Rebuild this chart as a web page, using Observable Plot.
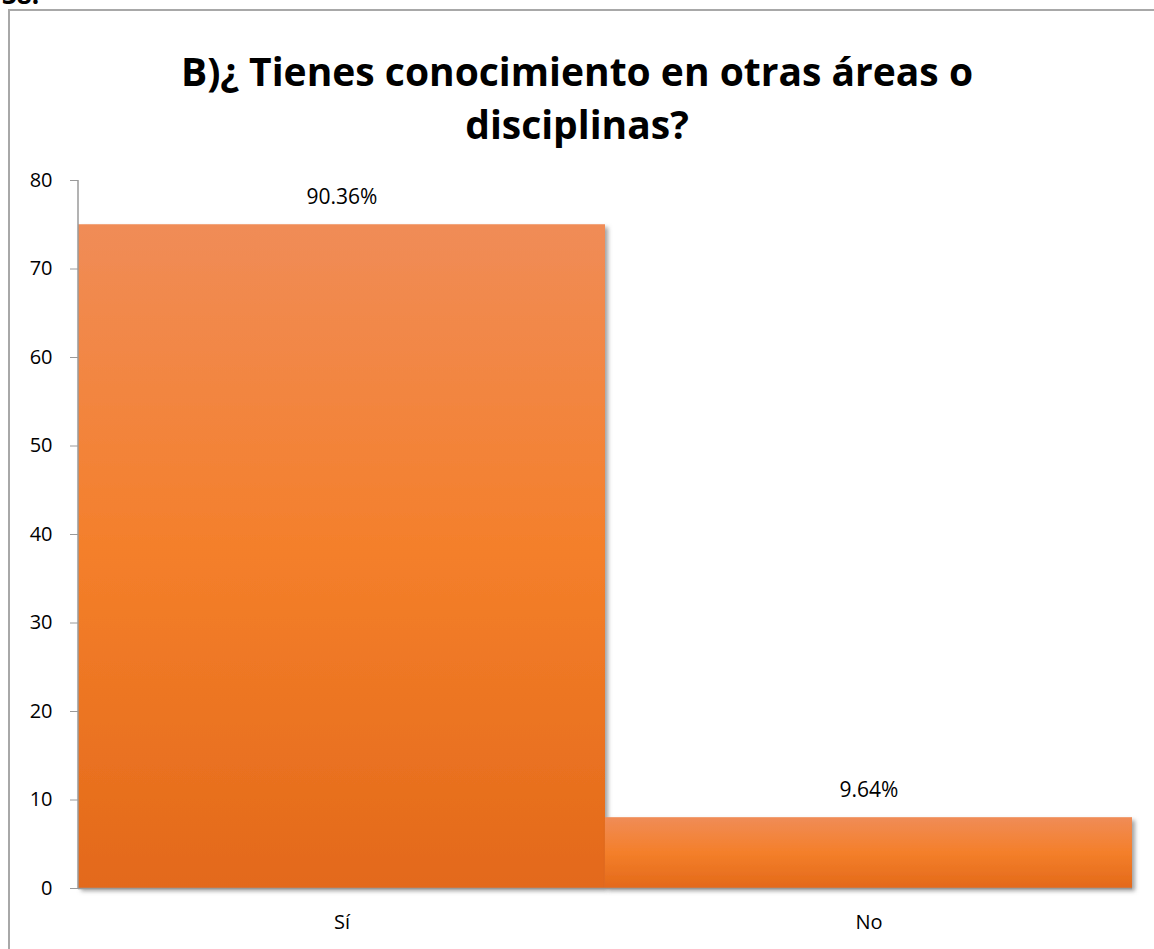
<!DOCTYPE html>
<html>
<head>
<meta charset="utf-8">
<script src="https://cdn.jsdelivr.net/npm/d3@7"></script>
<script src="https://cdn.jsdelivr.net/npm/@observablehq/plot@0.6"></script>
<style>
  html, body { margin: 0; padding: 0; background: #fff; width: 1154px; height: 949px; overflow: hidden; }
  body { position: relative; font-family: "Open Sans", "DejaVu Sans", sans-serif; }
  #num { position: absolute; left: 2px; top: -24px; font: bold 26px "Open Sans", sans-serif; color: #000; }
  #frame { position: absolute; left: 8px; top: 9px; width: 1200px; height: 1000px; border-left: 2px solid #a8a8a8; border-top: 2px solid #a8a8a8; }
  #title { position: absolute; left: 0; top: 0; width: 1154px; height: 160px; text-align: center; font: bold 39px "Open Sans", sans-serif; color: #000; }
  #title .l1 { position: absolute; left: 0; width: 1154px; top: 46px; line-height: 50px; }
  #title .l2 { position: absolute; left: 0; width: 1154px; top: 99px; line-height: 50px; }
  #chart { position: absolute; left: 0; top: 160px; }
  #chart svg g[aria-label="y-axis tick label"] text,
  #chart svg g[aria-label="x-axis tick label"] text { font-size: 20px; }
  #chart svg g[aria-label="text"] text { font-size: 21px; }
</style>
</head>
<body>
<div id="num">38.</div>
<div id="frame"></div>
<div id="title"><div class="l1">B)¿ Tienes conocimiento en otras áreas o</div><div class="l2">disciplinas?</div></div>
<div id="chart"></div>
<script>
const categories = ["Sí", "No"];
const counts = [75, 8];
const labels = ["90.36%", "9.64%"];
const yTicks = [0, 10, 20, 30, 40, 50, 60, 70, 80];

const data = categories.map((c, i) => ({category: c, count: counts[i], label: labels[i]}));

const plot = Plot.plot({
  width: 1154,
  height: 789,
  marginLeft: 78,
  marginRight: 22,
  marginTop: 20,
  marginBottom: 61,
  style: {fontFamily: "'Open Sans', sans-serif", fontSize: "20px", color: "#000", background: "transparent", overflow: "visible"},
  x: {domain: categories, padding: 0, label: null},
  y: {domain: [0, 80], label: null},
  marks: [
    Plot.barY(data, {x: "category", y: "count", fill: "url(#barGrad)"}),
    Plot.ruleY([0], {stroke: "#9a9a9a", strokeWidth: 1.5}),
    Plot.text(data, {x: "category", y: "count", text: "label", dy: -27, fontSize: 21, fill: "#000"}),
    Plot.axisY({ticks: yTicks, tickSize: 8, tickPadding: 18, stroke: "#9a9a9a", fill: "#000", fontSize: 20}),
    Plot.axisX({tickSize: 0, tickPadding: 26, fill: "#000", fontSize: 20})
  ]
});

// gradient + shadow defs
const svg = d3.select(plot);
const defs = svg.insert("defs", ":first-child");
const g = defs.append("linearGradient").attr("id", "barGrad").attr("x1", 0).attr("y1", 0).attr("x2", 0).attr("y2", 1);
g.append("stop").attr("offset", "0%").attr("stop-color", "#F08C57");
g.append("stop").attr("offset", "50%").attr("stop-color", "#F47F2A");
g.append("stop").attr("offset", "100%").attr("stop-color", "#E3691A");
const f = defs.append("filter").attr("id", "barShadow").attr("x", "-5%").attr("y", "-5%").attr("width", "115%").attr("height", "115%");
f.append("feDropShadow").attr("dx", 3).attr("dy", 3).attr("stdDeviation", 2).attr("flood-color", "#7a7a7a").attr("flood-opacity", 0.7);
svg.selectAll("g[aria-label='bar'] rect").attr("filter", "url(#barShadow)");
// y axis line along left edge of plot area
svg.append("line").attr("x1", 78).attr("x2", 78).attr("y1", 20).attr("y2", 789 - 61).attr("stroke", "#9a9a9a").attr("stroke-width", 1.5);

document.getElementById("chart").appendChild(plot);
</script>
</body>
</html>
